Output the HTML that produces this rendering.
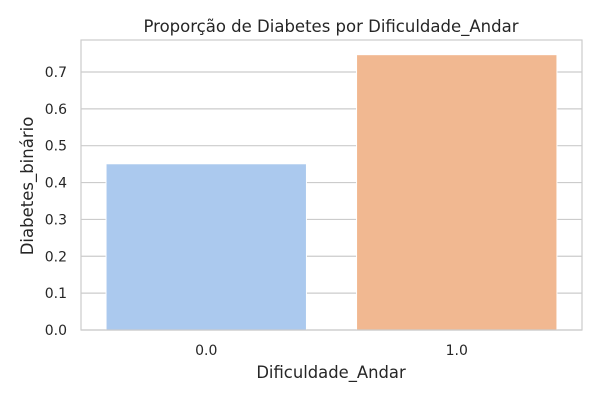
<!DOCTYPE html>
<html><head><meta charset="utf-8"><style>
body{margin:0;background:#fff;}
svg text{font-family:"DejaVu Sans","Liberation Sans",sans-serif;fill:#262626;}
</style></head><body>
<svg id="chart" width="600" height="400">
<text x="331" y="32" font-size="16.5" text-anchor="middle">Proporção de Diabetes por Dificuldade_Andar</text>
<text x="331" y="378" font-size="16.4" text-anchor="middle">Dificuldade_Andar</text>
<text transform="translate(33,186) rotate(-90)" font-size="16.5" text-anchor="middle">Diabetes_binário</text>
<g id="grid"></g><g id="bars"></g><g id="ticks"></g>
<rect x="81" y="40" width="501" height="290" fill="none" stroke="#cccccc" stroke-width="1.2"/>
</svg>
<script>
const categories=["0.0","1.0"];
const values=[0.451,0.747];
const yTicks=[0,0.1,0.2,0.3,0.4,0.5,0.6,0.7];
const colors=["#abc9ee","#f1b891"];
const ns="http://www.w3.org/2000/svg";
const L=81,R=582,B=330,T=40,yMax=0.7868;
const y=v=>B-v/yMax*(B-T);
const band=(R-L)/categories.length;
const xc=i=>L+band*(i+0.5);
function mk(t,a,p){const e=document.createElementNS(ns,t);for(const k in a)e.setAttribute(k,a[k]);p.appendChild(e);return e;}
const g=document.getElementById('grid'),b=document.getElementById('bars'),tk=document.getElementById('ticks');
yTicks.forEach(v=>{
 const l=mk('line',{x1:L,x2:R,y1:y(v),y2:y(v),stroke:'#cccccc','stroke-width':1.2},g);
 
 
 const t=mk('text',{x:L-14,y:y(v)+5,'font-size':14,'text-anchor':'end'},tk);
 t.textContent=v.toFixed(1);
 
 
});
categories.forEach((c,i)=>{
 const w=band*0.8;
 const r=mk('rect',{x:xc(i)-w/2,y:y(values[i]),width:w,height:B-y(values[i]),fill:colors[i],stroke:'#fff','stroke-width':1},b);
 
 
 const t=mk('text',{x:xc(i),y:B+25,'font-size':14,'text-anchor':'middle'},tk);
 t.textContent=c;
 
 
});
</script>
</body></html>
